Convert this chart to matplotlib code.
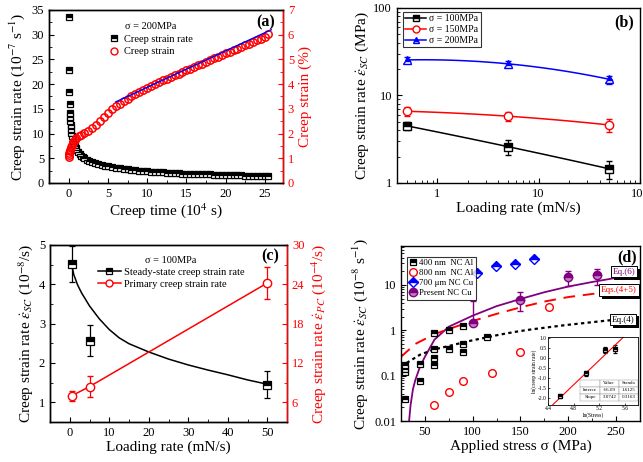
import numpy as np
import matplotlib
matplotlib.use('Agg')
import matplotlib.pyplot as plt
import matplotlib.patheffects as pe
from matplotlib.lines import Line2D
from matplotlib.ticker import MultipleLocator, FixedLocator, FuncFormatter, LogLocator, NullFormatter

plt.rcParams['font.family'] = ['Liberation Serif', 'DejaVu Serif']
plt.rcParams['mathtext.fontset'] = 'stix'
plt.rcParams['xtick.direction'] = 'in'
plt.rcParams['ytick.direction'] = 'in'
plt.rcParams['axes.linewidth'] = 1.0

RED = '#ff0000'
BLUE = '#0000ff'
PURPLE = '#800080'

# ---------------- (a) creep curve, sigma = 200 MPa ----------------
a_time_rate = [0.05, 0.08, 0.1, 0.12, 0.15, 0.18, 0.2, 0.25, 0.3, 0.35, 0.4, 0.5, 0.6, 0.7,
               0.8, 0.9, 1.0, 1.2, 1.4, 1.6, 1.8, 2.0, 2.3, 2.6, 3.0, 3.4, 3.8, 4.2, 4.6,
               5.0, 5.5, 6.0, 6.5, 7.0, 7.5, 8.0, 8.5, 9.0, 9.5, 10.0, 10.5, 11.0, 11.5,
               12.0, 12.5, 13.0, 13.5, 14.0, 14.5, 15.0, 15.5, 16.0, 16.5, 17.0, 17.5,
               18.0, 18.5, 19.0, 19.5, 20.0, 20.5, 21.0, 21.5, 22.0, 22.5, 23.0, 23.5,
               24.0, 24.5, 25.0, 25.4]
a_rate = [33.5, 22.8, 18.4, 15.9, 14.2, 13.3, 12.5, 11.8, 11.0, 10.2, 9.6, 9.0, 8.4, 7.9,
          7.4, 7.0, 6.7, 6.2, 5.8, 5.5, 5.2, 5.0, 4.7, 4.5, 4.2, 4.0, 3.8, 3.65, 3.5,
          3.4, 3.25, 3.1, 3.0, 2.9, 2.8, 2.7, 2.6, 2.5, 2.45, 2.4, 2.3, 2.25, 2.2,
          2.15, 2.1, 2.05, 2.0, 1.95, 1.9, 1.88, 1.85, 1.82, 1.8, 1.77, 1.75,
          1.72, 1.7, 1.68, 1.65, 1.62, 1.6, 1.58, 1.55, 1.53, 1.5, 1.48, 1.45,
          1.43, 1.4, 1.38, 1.35]
a_time_strain = [0.0, 0.05, 0.1, 0.15, 0.2, 0.3, 0.4, 0.5, 0.6, 0.8, 1.0, 1.3, 1.6, 2.0,
                 2.5, 3.0, 3.5, 4.0, 4.5, 5.0, 5.5, 6.0, 6.5, 7.0, 7.5, 8.0, 8.5, 9.0,
                 9.5, 10.0, 10.5, 11.0, 11.5, 12.0, 12.5, 13.0, 13.5, 14.0, 14.5, 15.0,
                 15.5, 16.0, 16.5, 17.0, 17.5, 18.0, 18.5, 19.0, 19.5, 20.0, 20.5, 21.0,
                 21.5, 22.0, 22.5, 23.0, 23.5, 24.0, 24.5, 25.0, 25.4]
a_strain = [1.05, 1.12, 1.2, 1.28, 1.35, 1.45, 1.53, 1.6, 1.66, 1.75, 1.82, 1.9, 1.96, 2.03,
            2.12, 2.22, 2.35, 2.5, 2.65, 2.85, 2.98, 3.1, 3.2, 3.3, 3.4, 3.5, 3.6, 3.7,
            3.78, 3.86, 3.94, 4.0, 4.08, 4.15, 4.22, 4.3, 4.36, 4.43, 4.5, 4.57,
            4.63, 4.7, 4.77, 4.83, 4.9, 4.97, 5.04, 5.1, 5.17, 5.24, 5.3, 5.37,
            5.44, 5.5, 5.57, 5.63, 5.7, 5.77, 5.84, 5.92, 6.02]
a_fit_time = [6.0, 25.8]
a_fit_strain = [3.28, 6.2]

# ---------------- (b) steady-state rate vs loading rate ----------------
b_load = [0.5, 5, 50]
b_100 = [4.5, 2.6, 1.45]
b_100_err = [0.45, 0.5, 0.35]
b_150 = [6.6, 5.8, 4.6]
b_150_err = [0.75, 0.65, 0.8]
b_200 = [25.5, 23.0, 15.3]
b_200_err = [2.2, 2.0, 1.6]

# ---------------- (c) sigma = 100 MPa ----------------
c_load = [0.5, 5, 50]
c_ss = [4.51, 2.57, 1.45]
c_ss_err = [0.46, 0.4, 0.35]
c_pc = [7.0, 8.4, 24.2]
c_pc_err = [0.8, 1.6, 2.5]
c_fit_x = [0.5, 1, 2, 3, 5, 7.5, 10, 12.5, 15, 20, 25, 30, 35, 40, 45, 50]
c_fit_y = [4.5, 4.25, 3.98, 3.78, 3.45, 3.12, 2.85, 2.64, 2.49, 2.28, 2.1, 1.95, 1.82, 1.7, 1.57, 1.46]

# ---------------- (d) comparison with literature ----------------
d_al400_x = [29, 29, 29, 29, 45, 45, 60, 60, 60, 60, 75, 75, 90, 90, 90, 115]
d_al400_y = [0.17, 0.14, 0.12, 0.03, 0.18, 0.078, 0.88, 0.38, 0.24, 0.17, 1.0, 0.38, 1.22, 0.5, 0.34, 0.71]
d_al800_x = [60, 75, 90, 120, 150, 180]
d_al800_y = [0.0225, 0.044, 0.075, 0.113, 0.33, 3.2]
d_cu700_x = [105, 124, 144, 164]
d_cu700_y = [18.3, 25.7, 29.2, 37.7]
d_cu_x = [100, 150, 200, 230]
d_cu_y = [1.48, 4.7, 15.3, 16.7]
d_cu_err_lo = [0.18, 2.1, 5.8, 6.7]
d_cu_err_hi = [2.98, 2.2, 5.2, 5.7]
d_eq6_x = [33.5, 35, 37.5, 40, 45, 50, 60, 75, 100, 125, 150, 175, 200, 225, 250, 275]
d_eq6_y = [0.01, 0.022, 0.05, 0.08, 0.16, 0.26, 0.62, 1.2, 2.1, 3.4, 4.9, 6.9, 9.2, 11.6, 14.3, 17]
d_eq45_x = [25, 40, 60, 75, 100, 125, 150, 175, 200, 232, 250, 275]
d_eq45_y = [0.26, 0.5, 0.82, 1.07, 1.6, 2.3, 3.2, 4.3, 5.4, 6.6, 7.5, 8.8]
d_eq4_x = [25, 45, 60, 75, 93, 115, 128, 148, 162, 197, 242, 275]
d_eq4_y = [0.16, 0.29, 0.38, 0.45, 0.56, 0.70, 0.8, 0.95, 1.05, 1.3, 1.65, 1.9]

# inset: ln(rate) vs ln(stress)
in_x = [4.58, 4.99, 5.29, 5.44]
in_y = [-1.90, -0.77, 0.39, 0.46]
in_err = [0.08, 0.12, 0.15, 0.2]
in_intercept = -16.09
in_slope = 3.0742
in_table = [['', 'Value', 'Standa'],
            ['Interce', '-16.09', '1.6125'],
            ['Slope', '3.0742', '0.3163']]

TICK = 9
LAB = 11
LEG = 7.5
PAN = 11.5

fig = plt.figure(figsize=(6.43, 4.62), dpi=100)


def half_square(color='k', ms=5):
    return dict(marker='s', ms=ms, mec=color, mfc=color, mfcalt='white',
                fillstyle='top', mew=0.9)


# ======== (a) ========
ax = fig.add_axes([0.0762, 0.6039, 0.3639, 0.3745])
ax.plot(a_time_rate, a_rate, ls='none', **half_square('k', 4.5))
ax.set_xlim(-2.5, 27.3)
ax.set_ylim(0, 35)
ax.xaxis.set_major_locator(MultipleLocator(5))
ax.xaxis.set_minor_locator(MultipleLocator(2.5))
ax.yaxis.set_major_locator(MultipleLocator(5))
ax.yaxis.set_minor_locator(MultipleLocator(2.5))
ax.tick_params(labelsize=TICK)
ax.set_xlabel('Creep time (10$^{4}$ s)', fontsize=LAB, labelpad=1)
ax.set_ylabel('Creep strain rate (10$^{-7}$ s$^{-1}$)', fontsize=LAB, labelpad=3)
ax2 = ax.twinx()
ax2.plot(a_time_strain, a_strain, ls='none', marker='o', ms=5.3, mec=RED, mfc='none', mew=1.1)
ax2.plot(a_fit_time, a_fit_strain, color=BLUE, lw=1)
ax2.set_ylim(0, 7)
ax2.yaxis.set_major_locator(MultipleLocator(1))
ax2.yaxis.set_minor_locator(MultipleLocator(0.5))
ax2.spines['right'].set_color(RED)
ax2.tick_params(axis='y', colors=RED, labelsize=TICK, which='both')
ax2.set_ylabel('Creep strain (%)', color=RED, fontsize=LAB, labelpad=3)
h = [Line2D([], [], ls='none', **half_square('k', 4.5)),
     Line2D([], [], ls='none', marker='o', ms=5, mec=RED, mfc='none', mew=1)]
ax2.legend(h, ['Creep strain rate', 'Creep strain'], title='σ = 200MPa', frameon=False,
           loc='upper left', bbox_to_anchor=(0.22, 0.97), fontsize=LEG, title_fontsize=LEG,
           handletextpad=0.4, labelspacing=0.3, borderpad=0.2, handlelength=1.2)
ax2.text(0.925, 0.93, '(a)', transform=ax.transAxes, fontsize=PAN, fontweight='bold',
         ha='center', va='center')

# ======== (b) ========
bx = fig.add_axes([0.6174, 0.6039, 0.3779, 0.3788])
bx.set_xscale('log')
bx.set_yscale('log')
lx = np.log10(b_load)
xs = np.logspace(np.log10(0.5), np.log10(50), 100)
for vals, errs, col, mk in [(b_100, b_100_err, 'k', 's'),
                            (b_150, b_150_err, RED, 'o'),
                            (b_200, b_200_err, BLUE, '^')]:
    p = np.polyfit(lx, np.log10(vals), 2)
    bx.plot(xs, 10 ** np.polyval(p, np.log10(xs)), color=col, lw=1.1)
    if mk == 'o':
        st = dict(marker='o', ms=6, mec=col, mfc='white', mew=1)
    else:
        st = dict(marker=mk, ms=6, mec=col, mfc=col, mfcalt='white', fillstyle='top', mew=1)
    bx.errorbar(b_load, vals, yerr=errs, ls='none', ecolor=col, elinewidth=0.9,
                capsize=2.5, capthick=0.9, **st)
bx.set_xlim(0.4, 100)
bx.set_ylim(1, 100)
fmt = FuncFormatter(lambda v, p: '{:g}'.format(v))
bx.xaxis.set_major_formatter(fmt)
bx.yaxis.set_major_formatter(fmt)
bx.xaxis.set_minor_formatter(NullFormatter())
bx.yaxis.set_minor_formatter(NullFormatter())
bx.tick_params(labelsize=TICK)
bx.set_xlabel('Loading rate (mN/s)', fontsize=LAB, labelpad=1)
bx.set_ylabel(r'Creep strain rate $\dot{\varepsilon}_{SC}$ (MPa)', fontsize=LAB, labelpad=2)
hb = [Line2D([], [], color='k', lw=1.1, marker='s', ms=5, mec='k', mfc='k', mfcalt='white', fillstyle='top'),
      Line2D([], [], color=RED, lw=1.1, marker='o', ms=5, mec=RED, mfc='white'),
      Line2D([], [], color=BLUE, lw=1.1, marker='^', ms=5, mec=BLUE, mfc=BLUE, mfcalt='white', fillstyle='top')]
lg = bx.legend(hb, ['σ = 100MPa', 'σ = 150MPa', 'σ = 200MPa'], loc='upper left',
               bbox_to_anchor=(0.015, 0.99), fontsize=7, frameon=True, fancybox=False,
               edgecolor='k', handlelength=2.2, handletextpad=0.3, labelspacing=0.2,
               borderpad=0.25, borderaxespad=0.2)
lg.get_frame().set_linewidth(0.8)
bx.text(0.935, 0.92, '(b)', transform=bx.transAxes, fontsize=PAN, fontweight='bold',
        ha='center', va='center')

# ======== (c) ========
cx = fig.add_axes([0.0778, 0.0866, 0.3686, 0.3831])
cx.plot(c_fit_x, c_fit_y, color='k', lw=1.1)
cx.errorbar(c_load, c_ss, yerr=c_ss_err, ls='none', ecolor='k', elinewidth=0.9,
            capsize=2.5, capthick=0.9, **half_square('k', 6))
cx.set_xlim(-5, 55)
cx.set_ylim(0.5, 5)
cx.xaxis.set_major_locator(MultipleLocator(10))
cx.xaxis.set_minor_locator(MultipleLocator(5))
cx.yaxis.set_major_locator(MultipleLocator(1))
cx.yaxis.set_minor_locator(MultipleLocator(0.5))
cx.tick_params(labelsize=TICK)
cx.set_xlabel('Loading rate (mN/s)', fontsize=LAB, labelpad=1)
cx.set_ylabel(r'Creep strain rate $\dot{\varepsilon}_{SC}$ (10$^{-8}$/s)', fontsize=LAB, labelpad=3)
cx2 = cx.twinx()
cx2.plot(c_load, c_pc, color=RED, lw=1.1)
cx2.errorbar(c_load, c_pc, yerr=c_pc_err, ls='none', ecolor=RED, elinewidth=0.9,
             capsize=2.5, capthick=0.9, marker='o', ms=6, mec=RED, mfc='white', mew=1)
cx2.set_ylim(3, 30)
cx2.yaxis.set_major_locator(MultipleLocator(6))
cx2.yaxis.set_minor_locator(MultipleLocator(3))
cx2.spines['right'].set_color(RED)
cx2.tick_params(axis='y', colors=RED, labelsize=TICK, which='both')
cx2.set_ylabel(r'Creep strain rate $\dot{\varepsilon}_{PC}$ (10$^{-4}$/s)', color=RED,
               fontsize=LAB, labelpad=3)
hc = [Line2D([], [], color='k', lw=1.1, **half_square('k', 5)),
      Line2D([], [], color=RED, lw=1.1, marker='o', ms=5, mec=RED, mfc='white')]
cx2.legend(hc, ['Steady-state creep strain rate', 'Primary creep strain rate'],
           title='σ = 100MPa', frameon=False, loc='upper left', bbox_to_anchor=(0.17, 0.98),
           fontsize=LEG, title_fontsize=LEG, handlelength=2.2, handletextpad=0.3,
           labelspacing=0.25, borderpad=0.2)
cx2.text(0.928, 0.934, '(c)', transform=cx.transAxes, fontsize=PAN, fontweight='bold',
         ha='center', va='center')

# ======== (d) ========
dx = fig.add_axes([0.6236, 0.0887, 0.3717, 0.3788])
dx.set_yscale('log')
dx.plot(d_eq6_x, d_eq6_y, color=PURPLE, lw=1.3)
dx.plot(d_eq45_x, d_eq45_y, color=RED, lw=1.4, ls=(0, (6, 4)))
dx.plot(d_eq4_x, d_eq4_y, color='k', lw=1.6, ls=(0, (1.5, 1.5)))
dx.plot(d_al400_x, d_al400_y, ls='none', **half_square('k', 5))
dx.plot(d_al800_x, d_al800_y, ls='none', marker='o', ms=5.5, mec=RED, mfc='white', mew=1)
dx.plot(d_cu700_x, d_cu700_y, ls='none', marker='D', ms=5, mec=BLUE, mfc=BLUE,
        mfcalt='white', fillstyle='top', mew=1)
dx.errorbar(d_cu_x, d_cu_y, yerr=[d_cu_err_lo, d_cu_err_hi], ls='none', ecolor=PURPLE,
            elinewidth=1, capsize=2.5, capthick=1, marker='o', ms=6, mec=PURPLE,
            mfc=PURPLE, mfcalt='#c080c0', fillstyle='top')
dx.set_xlim(25, 275)
dx.set_ylim(0.01, 72)
dx.xaxis.set_major_locator(MultipleLocator(50))
dx.xaxis.set_minor_locator(MultipleLocator(25))
dx.yaxis.set_major_locator(FixedLocator([0.01, 0.1, 1, 10]))
dx.yaxis.set_major_formatter(fmt)
dx.yaxis.set_minor_locator(LogLocator(subs=np.arange(2, 10)))
dx.yaxis.set_minor_formatter(NullFormatter())
dx.tick_params(labelsize=TICK)
dx.set_xlabel('Applied stress σ (MPa)', fontsize=LAB, labelpad=1)
dx.set_ylabel(r'Creep strain rate $\dot{\varepsilon}_{SC}$ (10$^{-8}$ s$^{-1}$)', fontsize=LAB, labelpad=3)
hd = [Line2D([], [], ls='none', **half_square('k', 5)),
      Line2D([], [], ls='none', marker='o', ms=5.5, mec=RED, mfc='white', mew=1),
      Line2D([], [], ls='none', marker='D', ms=5, mec=BLUE, mfc=BLUE, mfcalt='white', fillstyle='top'),
      Line2D([], [], ls='none', marker='o', ms=6, mec=PURPLE, mfc=PURPLE, mfcalt='#c080c0', fillstyle='top')]
lgd = dx.legend(hd, ['400 nm  NC Al', '800 nm  NC Al', '700 μm NC Cu', 'Present NC Cu'],
                loc='upper left', bbox_to_anchor=(0.005, 0.965), fontsize=6.3, frameon=True,
                fancybox=False, edgecolor='k', handletextpad=0.2, labelspacing=0.2,
                borderpad=0.3, handlelength=0.9)
lgd.get_frame().set_linewidth(0.8)
dx.text(0.944, 0.935, '(d)', transform=dx.transAxes, fontsize=PAN, fontweight='bold',
        ha='center', va='center')
shadow = [pe.SimplePatchShadow(offset=(2, -2), shadow_rgbFace='k', alpha=1), pe.Normal()]
for txt, col, xp, yp in [('Eq.(6)', PURPLE, 0.933, 0.854),
                         ('Eqs.(4+5)', RED, 0.912, 0.749),
                         ('Eq.(4)', 'k', 0.929, 0.58)]:
    t = dx.text(xp, yp, txt, transform=dx.transAxes, fontsize=6.5, color=col, ha='center',
                va='center', zorder=6,
                bbox=dict(boxstyle='square,pad=0.2', fc='white', ec='k', lw=0.7))
    t.get_bbox_patch().set_path_effects(shadow)

# inset
ix = fig.add_axes([0.8523, 0.1234, 0.14, 0.1472])
ix.errorbar(in_x, in_y, yerr=in_err, ls='none', ecolor='k', elinewidth=0.6, capsize=1.2,
            capthick=0.6, **half_square('k', 2.5))
lnx = np.array([4.4, 5.8])
ix.plot(lnx, in_intercept + in_slope * lnx, color=RED, lw=0.8)
ix.set_xlim(4.4, 5.8)
ix.set_ylim(-2.35, 1.05)
ix.xaxis.set_major_locator(MultipleLocator(0.4))
ix.yaxis.set_major_locator(MultipleLocator(0.5))
ix.tick_params(labelsize=4, length=1.5, width=0.5, pad=1)
ix.xaxis.set_major_formatter(FuncFormatter(lambda v, p: '{:.1f}'.format(v)))
ix.yaxis.set_major_formatter(FuncFormatter(lambda v, p: '{:.1f}'.format(v)))
ix.set_xlabel('ln(Stress)', fontsize=4, labelpad=0.5)
ix.set_ylabel('ln(creep strain rate)', fontsize=4, labelpad=0.5)
for s in ix.spines.values():
    s.set_linewidth(0.6)
tb = ix.table(cellText=in_table, bbox=[0.36, 0.06, 0.64, 0.31], cellLoc='center')
tb.auto_set_font_size(False)
tb.set_fontsize(3.6)
for key, cell in tb.get_celld().items():
    cell.set_linewidth(0.3)
    cell.set_edgecolor('#888888')
    cell.PAD = 0.02

fig.savefig('out.png', dpi=100)
